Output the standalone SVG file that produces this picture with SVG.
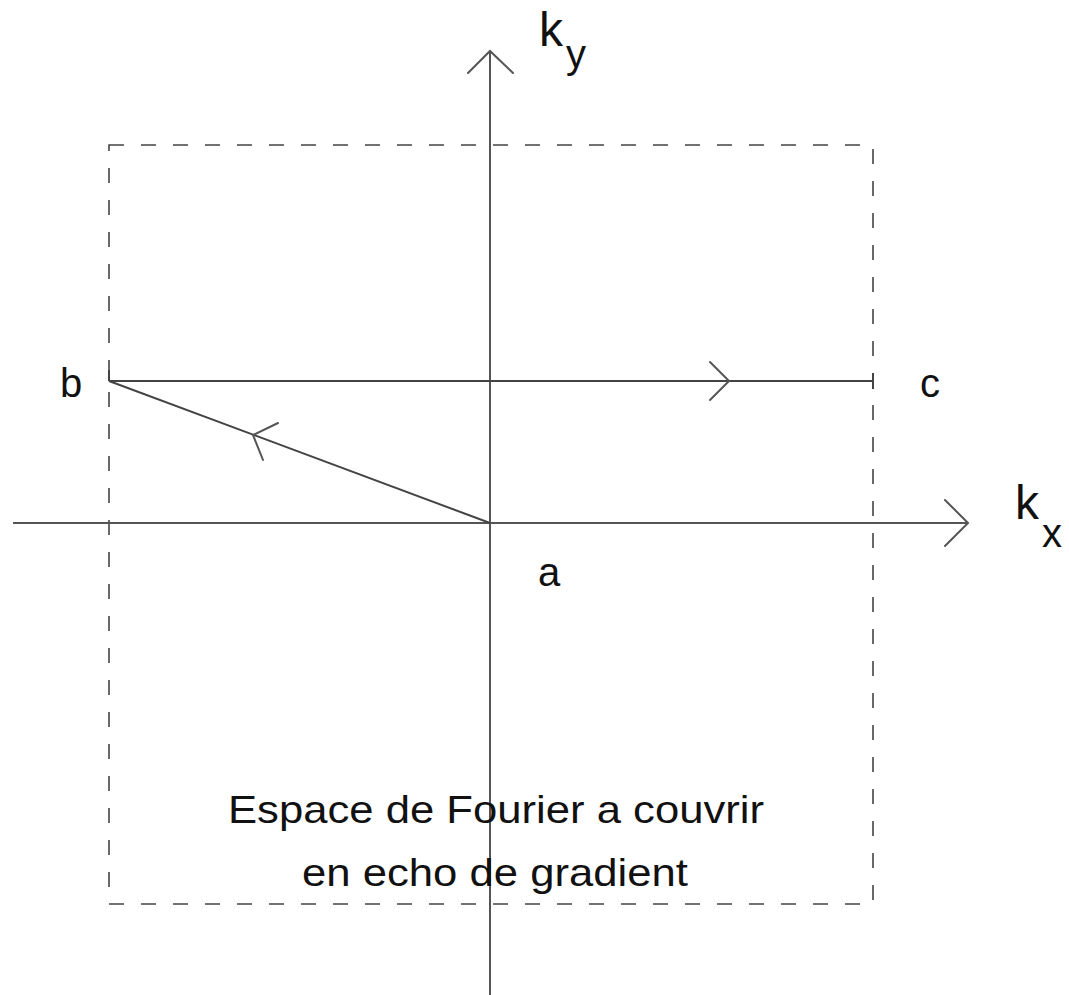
<svg xmlns="http://www.w3.org/2000/svg" width="1069" height="995" viewBox="0 0 1069 995">
<style>
.ax{stroke:#555;stroke-width:2;fill:none}
.tr{stroke:#444;stroke-width:2;fill:none}
.ah{stroke:#555;stroke-width:2;fill:none;stroke-linecap:round;stroke-linejoin:miter}
.box{stroke:#444;stroke-width:1.6;fill:none;stroke-dasharray:15 17}
.t{font-family:"Liberation Sans",Arial,sans-serif;fill:#111}
</style>
<rect width="1069" height="995" fill="#fff"/>
<g id="region">
<rect class="box" x="109" y="145" width="764" height="759"/>
</g>
<g id="connectors">
<line id="ky-axis" class="ax" x1="490" y1="52" x2="490" y2="995"/>
<polyline class="ah" points="468,73 490,51 513,73"/>
<line id="kx-axis" class="ax" x1="13" y1="523" x2="967" y2="523"/>
<polyline class="ah" points="945,500 968,523 945,546"/>
<line id="a-b" class="tr" x1="490" y1="523" x2="109" y2="381"/>
<polyline class="ah" points="278,423 253,435 263,460"/>
<line id="b-c" class="tr" x1="109" y1="381" x2="873" y2="381"/>
<polyline class="ah" points="710,362 729,381 710,400"/>
<line class="tr" x1="109" y1="370" x2="109" y2="381"/>
<line class="tr" x1="873" y1="373" x2="873" y2="389"/>
</g>
<g id="label-ky">
<text class="t" x="539" y="46" font-size="48">k</text>
<text class="t" x="566" y="68" font-size="40">y</text>
</g>
<g id="label-kx">
<text class="t" x="1015" y="519" font-size="48">k</text>
<text class="t" x="1042" y="547" font-size="40">x</text>
</g>
<g id="node-a"><text class="t" x="538" y="586" font-size="40">a</text></g>
<g id="node-b"><text class="t" x="60" y="397" font-size="40">b</text></g>
<g id="node-c"><text class="t" x="920" y="397" font-size="40">c</text></g>
<g id="caption">
<text class="t" x="228" y="823" font-size="39" textLength="536" lengthAdjust="spacingAndGlyphs">Espace de Fourier a couvrir</text>
<text class="t" x="302" y="886" font-size="39" textLength="386" lengthAdjust="spacingAndGlyphs">en echo de gradient</text>
</g>
</svg>
